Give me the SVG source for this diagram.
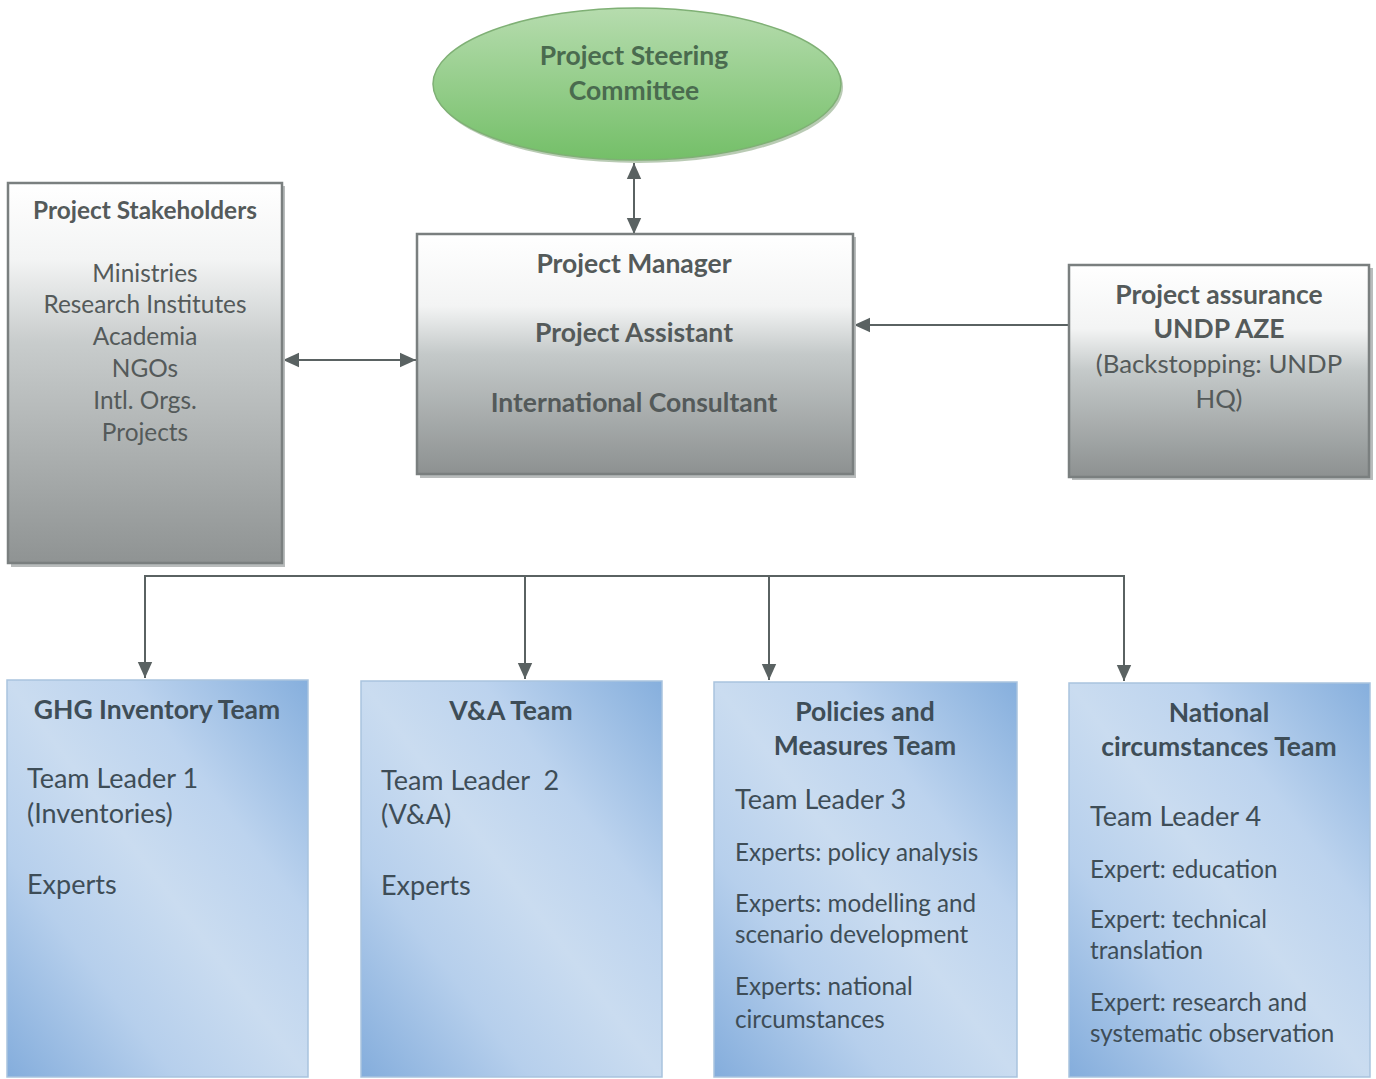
<svg xmlns="http://www.w3.org/2000/svg" width="1376" height="1079" viewBox="0 0 1376 1079">
<style>
text{font-family:Lato,"Liberation Sans",sans-serif;fill:#545a5a}
.b{font-weight:bold}
.c{text-anchor:middle}
.g{fill:#4a6b4f}
.t{fill:#3e4d57}
.gbox{fill:url(#gray);stroke:#7a7f7f;stroke-width:2.5}
.bbox{fill:url(#blue);stroke:#a9c3de;stroke-width:1.5}
.sh{fill:#b9bcbc}
.conn{stroke:#5a6262;stroke-width:2;fill:none}
.h{font-size:26.5px;font-weight:bold}
.l{font-size:27px}
.s{font-size:24.2px}
</style>
<defs>
<linearGradient id="gray" x1="0" y1="0" x2="0" y2="1">
<stop offset="0" stop-color="#ffffff"/>
<stop offset="0.3" stop-color="#f3f4f4"/>
<stop offset="0.5" stop-color="#c4c9c9"/>
<stop offset="1" stop-color="#8d9191"/>
</linearGradient>
<linearGradient id="gray2" x1="0" y1="0" x2="0" y2="1">
<stop offset="0" stop-color="#ffffff"/>
<stop offset="0.2" stop-color="#f3f4f4"/>
<stop offset="0.42" stop-color="#c8cccc"/>
<stop offset="1" stop-color="#8f9393"/>
</linearGradient>
<linearGradient id="blue" x1="1" y1="0" x2="0" y2="1">
<stop offset="0" stop-color="#86afdd"/>
<stop offset="0.3" stop-color="#bcd3ee"/>
<stop offset="0.5" stop-color="#cadcf0"/>
<stop offset="0.72" stop-color="#b6cfec"/>
<stop offset="1" stop-color="#84addc"/>
</linearGradient>
<linearGradient id="green" x1="0" y1="0" x2="0" y2="1">
<stop offset="0" stop-color="#b6dcae"/>
<stop offset="1" stop-color="#74bf68"/>
</linearGradient>
<marker id="a" viewBox="0 0 10 10" refX="10" refY="5" markerWidth="16" markerHeight="16" orient="auto-start-reverse" markerUnits="userSpaceOnUse">
<path d="M0,0.5 L10,5 L0,9.5 z" fill="#5a6262"/>
</marker>
</defs>

<g id="connectors">
<line class="conn" x1="634" y1="163" x2="634" y2="234" marker-start="url(#a)" marker-end="url(#a)"/>
<line class="conn" x1="283" y1="360" x2="416" y2="360" marker-start="url(#a)" marker-end="url(#a)"/>
<line class="conn" x1="1068" y1="325" x2="854" y2="325" marker-end="url(#a)"/>
<polyline class="conn" points="145,678 145,576 1124,576 1124,681" marker-end="url(#a)" marker-start="url(#a)"/>
<line class="conn" x1="525" y1="576" x2="525" y2="679" marker-end="url(#a)"/>
<line class="conn" x1="769" y1="576" x2="769" y2="680" marker-end="url(#a)"/>
</g>

<g id="steering">
<ellipse cx="637" cy="84" rx="204" ry="76" fill="#8aa882" opacity="0.6" transform="translate(2,3)"/>
<ellipse cx="637" cy="84" rx="204" ry="76" fill="url(#green)" stroke="#7fb075" stroke-width="1.5"/>
<text class="h c g" x="634" y="65">Project Steering</text>
<text class="h c g" x="634" y="100">Committee</text>
</g>

<g id="stakeholders">
<rect class="sh" x="11" y="186" width="274" height="381"/>
<rect class="gbox" x="8" y="183" width="274" height="380" style="fill:url(#gray2)"/>
<text class="b c" x="145" y="219" font-size="24.4">Project Stakeholders</text>
<text class="c" x="145" y="282" font-size="24.4">Ministries</text>
<text class="c" x="145" y="313" font-size="24.4">Research Institutes</text>
<text class="c" x="145" y="345" font-size="24.4">Academia</text>
<text class="c" x="145" y="377" font-size="24.4">NGOs</text>
<text class="c" x="145" y="409" font-size="24.4">Intl. Orgs.</text>
<text class="c" x="145" y="441" font-size="24.4">Projects</text>
</g>

<g id="manager">
<rect class="sh" x="420" y="237" width="436" height="241"/>
<rect class="gbox" x="417" y="234" width="436" height="240"/>
<text class="h c" x="634" y="273">Project Manager</text>
<text class="h c" x="634" y="342">Project Assistant</text>
<text class="h c" x="634" y="412">International Consultant</text>
</g>

<g id="assurance">
<rect class="sh" x="1072" y="268" width="301" height="212"/>
<rect class="gbox" x="1069" y="265" width="300" height="212"/>
<text class="h c" x="1219" y="304">Project assurance</text>
<text class="h c" x="1219" y="338">UNDP AZE</text>
<text class="c" x="1219" y="373" font-size="25.8">(Backstopping: UNDP</text>
<text class="c" x="1219" y="408" font-size="25.8">HQ)</text>
</g>

<g id="ghg">
<rect class="bbox" x="7" y="680" width="301" height="397"/>
<text class="h c t" x="157" y="719">GHG Inventory Team</text>
<text class="l t" x="27" y="788">Team Leader 1</text>
<text class="l t" x="27" y="823">(Inventories)</text>
<text class="l t" x="27" y="894">Experts</text>
</g>

<g id="va">
<rect class="bbox" x="361" y="681" width="301" height="396"/>
<text class="h c t" x="511" y="720">V&amp;A Team</text>
<text class="l t" x="381" y="790" xml:space="preserve">Team Leader  2</text>
<text class="l t" x="381" y="824">(V&amp;A)</text>
<text class="l t" x="381" y="895">Experts</text>
</g>

<g id="policies">
<rect class="bbox" x="714" y="682" width="303" height="395"/>
<text class="h c t" x="865" y="721">Policies and</text>
<text class="h c t" x="865" y="755">Measures Team</text>
<text class="l t" x="735" y="809">Team Leader 3</text>
<text class="s t" x="735" y="861">Experts: policy analysis</text>
<text class="s t" x="735" y="912">Experts: modelling and</text>
<text class="s t" x="735" y="943">scenario development</text>
<text class="s t" x="735" y="995">Experts: national</text>
<text class="s t" x="735" y="1028">circumstances</text>
</g>

<g id="national">
<rect class="bbox" x="1069" y="683" width="301" height="394"/>
<text class="h c t" x="1219" y="722">National</text>
<text class="h c t" x="1219" y="756">circumstances Team</text>
<text class="l t" x="1090" y="826">Team Leader 4</text>
<text class="s t" x="1090" y="878">Expert: education</text>
<text class="s t" x="1090" y="928">Expert: technical</text>
<text class="s t" x="1090" y="959">translation</text>
<text class="s t" x="1090" y="1011">Expert: research and</text>
<text class="s t" x="1090" y="1042">systematic observation</text>
</g>
</svg>
